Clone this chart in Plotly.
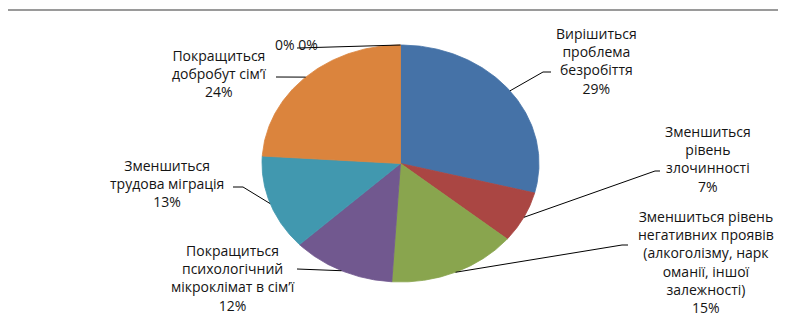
import numpy as np
import plotly.graph_objects as go

# ---- data ----
categories = [
    "Вирішиться<br>проблема<br>безробіття",
    "Зменшиться<br>рівень<br>злочинності",
    "Зменшиться рівень<br>негативних проявів<br>(алкоголізму, нарк<br>оманії, іншої<br>залежності)",
    "Покращиться<br>психологічний<br>мікроклімат в сім’ї",
    "Зменшиться<br>трудова міграція",
    "Покращиться<br>добробут сім’ї",
    "",
    "",
]
values = [29, 7, 15, 12, 13, 24, 0, 0]
colors = ["#4572A7", "#AA4643", "#89A54E", "#71588F", "#4198AF", "#DB843D", "#93A9CF", "#D19392"]

# ---- layout / style (pixel coordinates) ----
W, H = 786, 313
OFF = 8  # page body margin compensation
CX, CY, RX, RY = 400.5, 163.5, 138.5, 118.5
FONT = dict(family="Open Sans, Noto Sans, sans-serif", size=14, color="#141414")

# label centre positions and leader elbows (layout only)
label_pos = [(596, 61), (708, 159), (706, 262), (233, 278), (167, 183), (219, 73)]
leader_pts = [
    [(543, 72), (551, 72)],
    [(655, 171), (660, 171)],
    [(622, 245), (628, 245)],
    [(305, 269), (297, 269)],
    [(243, 187), (233, 187)],
    [(290, 77), (276, 77)],
]
zero_label_pos = (296, 44)
zero_leader_end = (297, 48)

total = sum(values)
fig = go.Figure()

cum = 0.0
mids = []
for v, c in zip(values, colors):
    a0 = cum / total * 2 * np.pi
    cum += v
    a1 = cum / total * 2 * np.pi
    mids.append((a0 + a1) / 2)
    if v <= 0:
        continue
    t = np.linspace(a0, a1, 120)
    xs = np.concatenate([[CX], CX + RX * np.sin(t), [CX]])
    ys = np.concatenate([[CY], CY - RY * np.cos(t), [CY]])
    fig.add_trace(go.Scatter(x=xs, y=ys, mode="lines", fill="toself", fillcolor=c,
                             line=dict(width=0.8, color=c), hoverinfo="skip", showlegend=False))

def edge(a):
    return CX + RX * np.sin(a), CY - RY * np.cos(a)

# labels and leader lines for non-zero slices
for i, (cat, v) in enumerate(zip(categories, values)):
    if v <= 0:
        continue
    sx, sy = edge(mids[i])
    pts = [(sx, sy)] + leader_pts[i]
    fig.add_trace(go.Scatter(x=[p[0] for p in pts], y=[p[1] for p in pts], mode="lines",
                             line=dict(color="#000000", width=1), hoverinfo="skip", showlegend=False))
    lx, ly = label_pos[i]
    pct = round(v / total * 100)
    fig.add_annotation(x=lx, y=ly, xref="x", yref="y", text=f"{cat}<br>{pct}%",
                       showarrow=False, xanchor="center", yanchor="middle", align="center", font=FONT)

# zero-value slices
zero_idx = [i for i, v in enumerate(values) if v <= 0]
if zero_idx:
    sx, sy = edge(mids[zero_idx[-1]])
    fig.add_trace(go.Scatter(x=[sx, zero_leader_end[0]], y=[sy, zero_leader_end[1]], mode="lines",
                             line=dict(color="#000000", width=1), hoverinfo="skip", showlegend=False))
    ztext = " ".join(f"{round(values[i] / total * 100)}%" for i in zero_idx)
    fig.add_annotation(x=zero_label_pos[0], y=zero_label_pos[1], xref="x", yref="y", text=ztext,
                       showarrow=False, xanchor="center", yanchor="middle", font=FONT)

# chart-area border
fig.add_shape(type="rect", xref="x", yref="y", x0=6, y0=10, x1=W + 20, y1=H + 20,
              line=dict(color="#9a9a9a", width=2), fillcolor="rgba(0,0,0,0)", layer="below")

fig.update_xaxes(range=[OFF, W + OFF], visible=False, fixedrange=True)
fig.update_yaxes(range=[H + OFF, OFF], visible=False, fixedrange=True)
fig.update_layout(width=W, height=H, margin=dict(l=0, r=0, t=0, b=0),
                  paper_bgcolor="white", plot_bgcolor="white", showlegend=False)

fig.write_html("out.html")
